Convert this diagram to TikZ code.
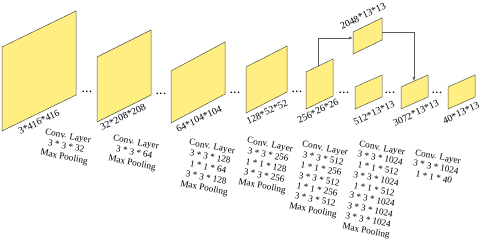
\documentclass[tikz,border=0pt]{standalone}
\usepackage{fontspec}
\setmainfont{Liberation Serif}
\usetikzlibrary{calc,arrows.meta}
\definecolor{sheetfill}{RGB}{255,239,130}
\definecolor{sheetline}{RGB}{80,80,60}
\definecolor{arrgray}{RGB}{90,90,90}
\tikzset{
  sheetstyle/.style={fill=sheetfill,draw=sheetline,line width=0.5pt,line join=miter},
  sizelabel/.style={font=\fontsize{9.8}{11}\selectfont,rotate=25,inner sep=0pt},
  layerblock/.style={font=\fontsize{9.2}{10.5}\selectfont,align=center,rotate=-11,inner sep=0pt},
  dotsnode/.style={font=\fontsize{10}{10}\selectfont\bfseries,inner sep=0pt},
  arr/.style={draw=arrgray,line width=0.5pt,-{Latex[length=4pt,width=3pt]}}
}
\newcommand\drawsheet[6]{%
  \coordinate (#1-bl) at (#2,#3);
  \coordinate (#1-tl) at (#2,#3-#6);
  \coordinate (#1-tr) at (#2+#4,#3-#6-#5);
  \coordinate (#1-br) at (#2+#4,#3-#5);
  \draw[sheetstyle] (#1-bl) -- (#1-tl) -- (#1-tr) -- (#1-br) -- cycle;}
\begin{document}
\begin{tikzpicture}[x=1pt,y=-1pt]
\useasboundingbox (0,0) rectangle (480,241);
% sheets
\drawsheet{s1}{2}{131}{74}{36}{84}
\drawsheet{s2}{97}{122}{54}{27}{65}
\drawsheet{s3}{171}{123}{54}{29}{52}
\drawsheet{s4}{246}{113}{41}{21}{46}
\drawsheet{s5}{306}{109}{27}{13}{37}
\drawsheet{s6}{353}{54}{29}{14}{22}
\drawsheet{s7}{355}{109}{27}{12}{22}
\drawsheet{s8}{401}{109}{27}{12}{22}
\drawsheet{s9}{448}{109}{27}{12}{22}
% size labels
\node[sizelabel] (l1) at (39,122) {3*416*416};
\node[sizelabel] (l2) at (123,117) {32*208*208};
\node[sizelabel] (l3) at (199,119) {64*104*104};
\node[sizelabel] (l4) at (267,112) {128*52*52};
\node[sizelabel] (l5) at (318,111) {256*26*26};
\node[sizelabel] (l6) at (363,16) {2048*13*13};
\node[sizelabel] (l7) at (374,113) {512*13*13};
\node[sizelabel] (l8) at (416,113) {3072*13*13};
\node[sizelabel] (l9) at (461,113) {40*13*13};
% dots
\node[dotsnode] (d1) at (87,92) {.\hspace{1.2pt}.\hspace{1.2pt}.};
\node[dotsnode] (d2) at (161,94) {.\hspace{1.2pt}.\hspace{1.2pt}.};
\node[dotsnode] (d3) at (235,93) {.\hspace{1.2pt}.\hspace{1.2pt}.};
\node[dotsnode] (d4) at (297,92) {.\hspace{1.2pt}.\hspace{1.2pt}.};
\node[dotsnode] (d5) at (344,93) {.\hspace{1.2pt}.\hspace{1.2pt}.};
\node[dotsnode] (d6) at (390,93) {.\hspace{1.2pt}.\hspace{1.2pt}.};
\node[dotsnode] (d7) at (437,93) {.\hspace{1.2pt}.\hspace{1.2pt}.};
% arrows
\coordinate (a1s) at ($(s5-tl)!0.44!(s5-tr)$);
\coordinate (a1e) at ($(s6-tl)!0.27!(s6-bl)$);
\coordinate (a2s) at ($(s6-tr)!0.64!(s6-br)$);
\coordinate (a2e) at ($(s8-tl)!0.48!(s8-tr)$);
\draw[arr] (a1s) |- (a1e);
\draw[arr] (a2s) -| (a2e);
% layer blocks
\node[layerblock] (b1) at (66,147) {Conv. Layer\\3 * 3 * 32\\Max Pooling};
\node[layerblock] (b2) at (134,153) {Conv. Layer\\3 * 3 * 64\\Max Pooling};
\node[layerblock] (b3) at (208,168) {Conv. Layer\\3 * 3 * 128\\1 * 1 * 64\\3 * 3 * 128\\Max Pooling};
\node[layerblock] (b4) at (266,166) {Conv. Layer\\3 * 3 * 256\\1 * 1 * 128\\3 * 3 * 256\\Max Pooling};
\node[layerblock] (b5) at (319,180) {Conv. Layer\\3 * 3 * 512\\1 * 1 * 256\\3 * 3 * 512\\1 * 1 * 256\\3 * 3 * 512\\Max Pooling};
\node[layerblock] (b6) at (374,190) {Conv. Layer\\3 * 3 * 1024\\1 * 1 * 512\\3 * 3 * 1024\\1 * 1 * 512\\3 * 3 * 1024\\3 * 3 * 1024\\3 * 3 * 1024\\Max Pooling};
\node[layerblock] (b7) at (436,167) {Conv. Layer\\3 * 3 * 1024\\1 * 1 * 40};
\end{tikzpicture}
\end{document}
